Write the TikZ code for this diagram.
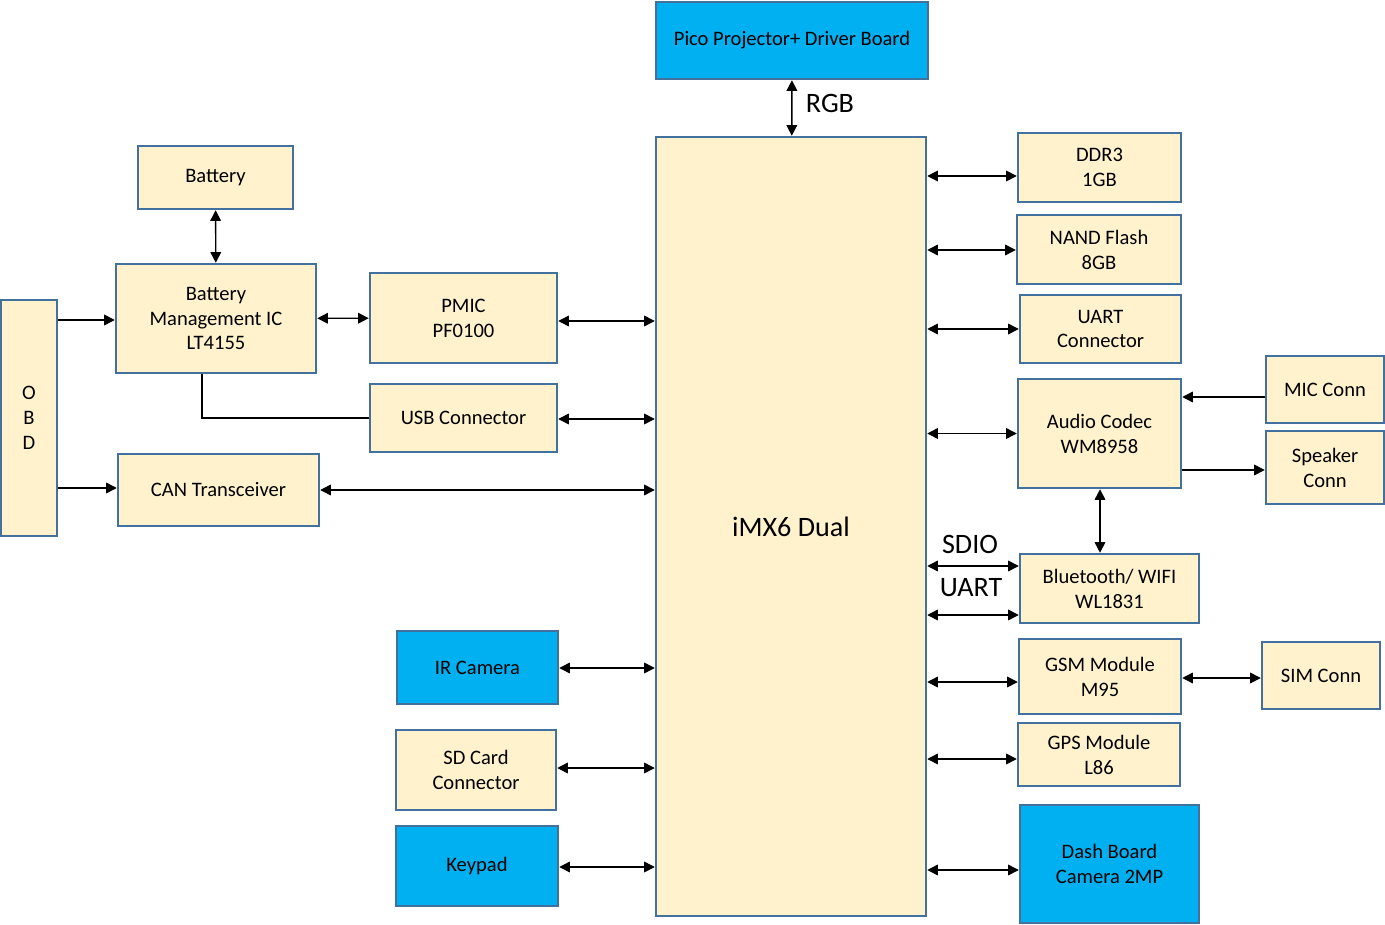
\documentclass[tikz,border=0pt]{standalone}
\usepackage{fontspec}
\setmainfont{Carlito}
\usetikzlibrary{arrows.meta, positioning}

\definecolor{boxfill}{HTML}{FFF2CC}
\definecolor{boxline}{HTML}{41719C}
\definecolor{camblue}{HTML}{00B0F0}

\begin{document}
\begin{tikzpicture} [
						x=0.02cm, y=-0.02cm,
						dims/.style 2 args={minimum width=#1*0.02cm, minimum height=#2*0.02cm},
						block/.style={draw=boxline, fill=boxfill, line width=1.4pt, inner sep=0pt, align=center,
							font=\fontsize{11.7}{14.2}\selectfont},
						blueblock/.style={block, fill=camblue},
						biglabel/.style={font=\fontsize{16}{19}\selectfont},
						>={Triangle[length=6pt, width=6pt]},
						every edge/.style={draw, line width=0.8pt}
					]

\useasboundingbox (0,0) rectangle (1385,925);

\node (pico)   [blueblock, dims={272}{77}]  at (792,40.5)    {Pico Projector+ Driver Board};
\node (imx)    [block, dims={270}{779}]     at (791,526.5)   {\fontsize{16}{19}\selectfont iMX6 Dual};
\node (bat)    [block, dims={155}{63}]      at (215.5,177.5) {Battery};
\node (bmic)   [block, dims={200}{109}]     at (216,318.5)   {Battery\\Management IC\\LT4155};
\node (obd)    [block, dims={56}{236}]      at (29,418)      {O\\B\\D};
\node (pmic)   [block, dims={187}{90}]      at (463.5,318)   {PMIC\\PF0100};
\node (usb)    [block, dims={187}{68}]      at (463.5,418)   {USB Connector};
\node (can)    [block, dims={201}{72}]      at (218.5,490)   {CAN Transceiver};
\node (ircam)  [blueblock, dims={161}{73}]  at (477.5,667.5) {IR Camera};
\node (sd)     [block, dims={160}{80}]      at (476,770)     {SD Card\\Connector};
\node (keypad) [blueblock, dims={162}{80}]  at (477,866)     {Keypad};
\node (ddr)    [block, dims={163}{69}]      at (1099.5,167.5) {DDR3\\1GB};
\node (nand)   [block, dims={164}{69}]      at (1099,249.5)  {NAND Flash\\8GB};
\node (uart)   [block, dims={161}{68}]      at (1100.5,329)  {UART\\Connector};
\node (audio)  [block, dims={163}{109}]     at (1099.5,433.5) {Audio Codec\\WM8958};
\node (mic)    [block, dims={118}{67}]      at (1325,389.5)  {MIC Conn};
\node (spk)    [block, dims={118}{73}]      at (1325,467.5)  {Speaker\\Conn};
\node (bt)     [block, dims={179}{69}]      at (1109.5,588.5) {Bluetooth/ WIFI\\WL1831};
\node (gsm)    [block, dims={162}{75}]      at (1100,676.5)  {GSM Module\\M95};
\node (sim)    [block, dims={118}{67}]      at (1321,675.5)  {SIM Conn};
\node (gps)    [block, dims={162}{63}]      at (1099,754.5)  {GPS Module\\L86};
\node (dash)   [blueblock, dims={179}{118}] at (1109.5,864)  {Dash Board\\Camera 2MP};

\node (rgb)  [biglabel] at (830,103) {RGB};
\node (sdio) [biglabel] at (970,544) {SDIO};
\node (urt)  [biglabel] at (971,588) {UART};

\path[<->]
	(pico) edge (imx)
	(bat) edge (bmic)
	(bmic) edge (pmic)
	(pmic.east |- 0,321) edge (imx.west |- 0,321)
	(usb.east |- 0,419) edge (imx.west |- 0,419)
	(can.east) edge (can.east -| imx.west)
	(ircam.east |- 0,668) edge (imx.west |- 0,668)
	(sd.east |- 0,768) edge (imx.west |- 0,768)
	(keypad.east |- 0,867) edge (imx.west |- 0,867)
	(imx.east |- 0,176) edge (ddr.west |- 0,176)
	(imx.east |- 0,250) edge (nand.west |- 0,250)
	(imx.east |- uart.west) edge (uart.west)
	(imx.east |- audio.west) edge (audio.west)
	(audio.south -| 1100,0) edge (bt.north -| 1100,0)
	(imx.east |- 0,566) edge (bt.west |- 0,566)
	(imx.east |- 0,615) edge (bt.west |- 0,615)
	(imx.east |- 0,682) edge (gsm.west |- 0,682)
	(gsm.east |- 0,678) edge (sim.west |- 0,678)
	(imx.east |- 0,759) edge (gps.west |- 0,759)
	(imx.east |- 0,870) edge (dash.west |- 0,870);

\path[->]
	(obd.east |- 0,320) edge (bmic.west |- 0,320)
	(obd.east |- 0,488) edge (can.west |- 0,488)
	(mic.west |- 0,397) edge (audio.east |- 0,397)
	(audio.east |- 0,470) edge (spk.west |- 0,470);

\draw[line width=0.8pt] (bmic.south -| 202,0) |- (usb.west);
\end{tikzpicture}
\end{document}
